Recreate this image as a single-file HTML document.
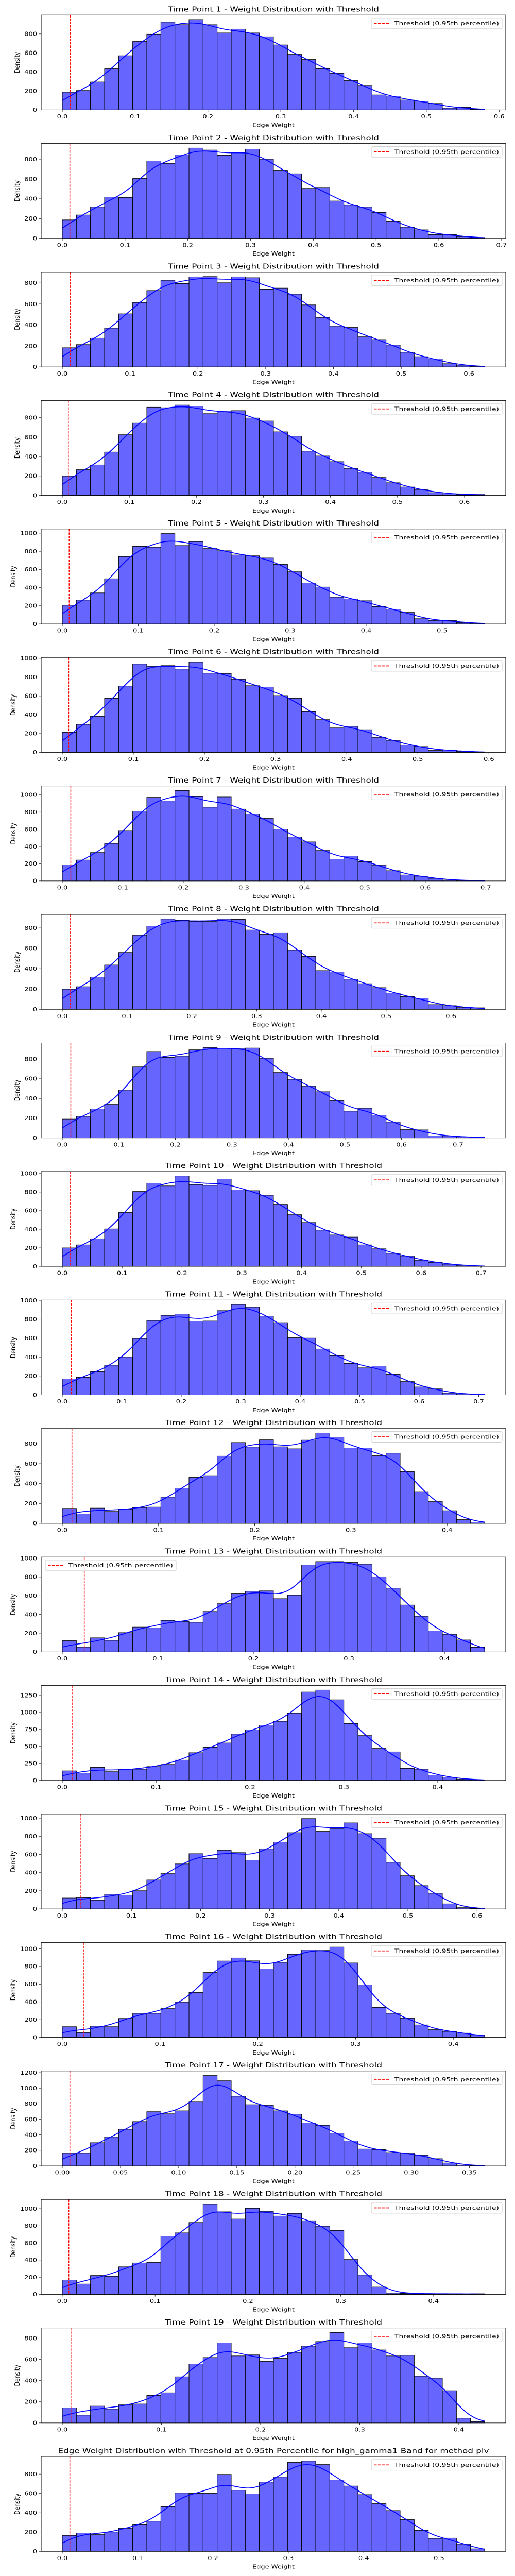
<!DOCTYPE html>
<html><head><meta charset="utf-8"><title>Weight Distributions</title>
<style>
html,body{margin:0;padding:0;background:#fff;width:100%;height:100%;overflow:hidden;}
svg{display:block;position:fixed;left:0;top:0;width:100vw;height:100vh;font-family:"DejaVu Sans","Liberation Sans",sans-serif;}
</style></head>
<body>
<svg id="fig" viewBox="0 0 1000 6000" preserveAspectRatio="none" xmlns="http://www.w3.org/2000/svg"></svg>
<script>
const tp1=[186,204,294,438,570,720,797,924,897,951,897,810,851,810,770,684,584,530,439,385,308,258,158,145,104,91,68,18,27,5];
const tp2=[187,237,317,417,413,605,782,757,845,913,893,840,867,902,800,688,653,505,515,378,338,317,262,173,113,87,38,38,18,10];
const tp3=[183,213,274,369,506,613,728,825,794,858,861,802,858,850,740,751,693,591,471,389,376,287,261,208,139,98,77,31,16,6];
const tp4=[199,265,314,447,625,744,908,903,930,918,842,869,873,797,766,655,609,455,406,348,278,238,185,131,87,61,29,17,10,10];
const tp5=[205,262,342,498,742,855,845,996,864,907,831,807,760,751,727,656,575,451,407,295,276,256,191,162,127,58,38,38,15,7];
const tp6=[214,298,384,575,705,940,916,924,886,961,842,839,779,710,696,605,575,433,349,261,277,242,160,128,77,63,21,26,11,5];
const tp7=[188,243,330,435,586,810,971,929,1050,979,856,975,835,780,726,600,510,454,354,253,289,224,184,119,69,54,29,10,6,4];
const tp8=[198,223,317,436,559,729,818,887,874,863,863,887,884,779,737,753,583,520,381,368,296,253,214,160,126,110,47,37,18,16];
const tp9=[191,218,293,340,485,721,877,817,830,894,917,909,909,912,808,664,594,526,469,377,271,301,231,161,84,82,22,20,10,7];
const tp10=[200,232,298,404,580,807,896,867,973,881,872,941,824,816,766,668,557,473,390,339,316,232,190,140,112,66,43,23,11,5];
const tp11=[169,186,246,314,401,596,787,841,855,779,782,892,956,929,833,765,605,601,486,415,333,287,305,218,141,84,64,19,9,5];
const tp12=[151,95,154,120,143,159,164,264,354,463,480,676,813,767,840,770,750,837,908,866,758,758,680,705,520,320,219,128,38,13];
const tp13=[120,51,151,123,206,265,257,336,325,316,432,515,626,647,652,569,606,928,965,965,956,937,803,680,501,381,225,188,128,49];
const tp14=[141,107,192,129,165,165,204,235,299,408,488,551,682,745,813,869,990,1301,1330,1187,837,660,471,420,177,165,78,46,19,10];
const tp15=[120,123,96,161,152,201,319,389,496,609,556,647,621,538,661,737,841,996,855,886,949,830,779,513,366,257,172,56,14,5];
const tp16=[121,54,126,121,214,271,271,325,398,506,732,862,896,864,773,846,937,987,981,1019,840,593,338,271,217,141,87,67,48,28];
const tp17=[166,166,299,372,471,571,698,671,709,830,1163,1096,896,788,781,709,665,554,522,420,321,217,210,172,166,138,93,38,11,4];
const tp18=[167,121,221,211,322,367,372,678,718,839,1054,964,879,1004,969,914,944,860,795,745,407,226,86,15,12,8,8,6,6,8];
const tp19=[142,73,159,131,171,179,260,285,436,557,618,756,633,643,581,610,666,725,769,854,711,756,690,633,638,442,423,305,44,12];
const tp20=[165,191,174,200,240,276,312,463,605,601,601,797,632,596,717,770,921,935,899,739,677,588,494,423,329,218,134,138,76,27];
const binHeights=[tp1,tp2,tp3,tp4,tp5,tp6,tp7,tp8,tp9,tp10,tp11,tp12,tp13,tp14,tp15,tp16,tp17,tp18,tp19,tp20];
const dataMax=[0.58,0.673,0.623,0.63,0.556,0.594,0.698,0.652,0.747,0.706,0.71,0.439,0.442,0.45,0.611,0.432,0.363,0.455,0.426,0.5605];
const thresholds=[0.011,0.012,0.012,0.009,0.009,0.009,0.014,0.012,0.015,0.013,0.015,0.010,0.023,0.011,0.026,0.0216,0.0065,0.007,0.0087,0.010];
const xTicks=[
[0,0.1,0.2,0.3,0.4,0.5,0.6],[0,0.1,0.2,0.3,0.4,0.5,0.6,0.7],[0,0.1,0.2,0.3,0.4,0.5,0.6],[0,0.1,0.2,0.3,0.4,0.5,0.6],
[0,0.1,0.2,0.3,0.4,0.5],[0,0.1,0.2,0.3,0.4,0.5,0.6],[0,0.1,0.2,0.3,0.4,0.5,0.6,0.7],[0,0.1,0.2,0.3,0.4,0.5,0.6],
[0,0.1,0.2,0.3,0.4,0.5,0.6,0.7],[0,0.1,0.2,0.3,0.4,0.5,0.6,0.7],[0,0.1,0.2,0.3,0.4,0.5,0.6,0.7],[0,0.1,0.2,0.3,0.4],
[0,0.1,0.2,0.3,0.4],[0,0.1,0.2,0.3,0.4],[0,0.1,0.2,0.3,0.4,0.5,0.6],[0,0.1,0.2,0.3,0.4],
[0,0.05,0.1,0.15,0.2,0.25,0.3,0.35],[0,0.1,0.2,0.3,0.4],[0,0.1,0.2,0.3,0.4],[0,0.1,0.2,0.3,0.4,0.5]];
const xTickDecimals=[1,1,1,1,1,1,1,1,1,1,1,1,1,1,1,1,2,1,1,1];
const yTicks=[
[0,200,400,600,800],[0,200,400,600,800],[0,200,400,600,800],[0,200,400,600,800],
[0,200,400,600,800,1000],[0,200,400,600,800,1000],[0,200,400,600,800,1000],[0,200,400,600,800],
[0,200,400,600,800],[0,200,400,600,800,1000],[0,200,400,600,800,1000],[0,200,400,600,800],
[0,200,400,600,800,1000],[0,250,500,750,1000,1250],[0,200,400,600,800,1000],[0,200,400,600,800,1000],
[0,200,400,600,800,1000,1200],[0,200,400,600,800,1000],[0,200,400,600,800],[0,200,400,600,800]];
const legendSide=['r','r','r','r','r','r','r','r','r','r','r','r','l','r','r','r','r','r','r','r'];
const titles=[];
for(let i=1;i<=19;i++) titles.push('Time Point '+i+' - Weight Distribution with Threshold');
titles.push('Edge Weight Distribution with Threshold at 0.95th Percentile for high_gamma1 Band for method plv');

const NS='http://www.w3.org/2000/svg';
const svg=document.getElementById('fig');
function mk(tag,attrs,parent){const e=document.createElementNS(NS,tag);for(const k in attrs)e.setAttribute(k,attrs[k]);parent.appendChild(e);return e;}

const L=80,W=902,AH=221;
binHeights.forEach((h,i)=>{
  const top=35+i*299.3, bot=top+AH;
  const g=mk('g',{},svg);
  
  
  const xmax=dataMax[i], x0=-0.05*xmax, x1=1.05*xmax;
  const ymax=Math.max(...h)*1.05;
  const sx=v=>L+(v-x0)/(x1-x0)*W;
  const sy=v=>bot-v/ymax*AH;
  const n=h.length, bw=xmax/n;
  const bars=mk('g',{},g);
  
  
  h.forEach((v,j)=>{
    const r=mk('rect',{x:sx(j*bw),y:sy(v),width:sx((j+1)*bw)-sx(j*bw),height:bot-sy(v),fill:'#6666ff',stroke:'#000','stroke-width':1},bars);
    
    
  });
  const sig=1.05*bw;let d='';
  for(let k=0;k<=240;k++){
    const x=xmax*k/240;let s=0;
    for(let j=0;j<n;j++){const c=(j+0.5)*bw;s+=h[j]*bw/(sig*Math.sqrt(2*Math.PI))*Math.exp(-(x-c)*(x-c)/(2*sig*sig));}
    d+=(k?'L':'M')+sx(x).toFixed(1)+','+sy(s).toFixed(1);
  }
  const kde=mk('path',{d:d,fill:'none',stroke:'#0000ff','stroke-width':2},g);
  
  
  const th=mk('line',{x1:sx(thresholds[i]),x2:sx(thresholds[i]),y1:top,y2:bot,stroke:'#ff0000','stroke-width':1.5,'stroke-dasharray':'5.5,2.4'},g);
  
  
  const fr=mk('rect',{x:L,y:top,width:W,height:AH,fill:'none',stroke:'#000','stroke-width':1},g);
  
  
  xTicks[i].forEach(t=>{
    const x=sx(t);
    mk('line',{x1:x,x2:x,y1:bot,y2:bot+4.9,stroke:'#000','stroke-width':0.8},g);
    const tx=mk('text',{x:x,y:bot+20,'text-anchor':'middle','font-size':13,fill:'#000'},g);
    tx.textContent=t.toFixed(xTickDecimals[i]);
    
    
  });
  let maxW=0;
  yTicks[i].forEach(t=>{
    const y=sy(t);
    mk('line',{x1:L-4.9,x2:L,y1:y,y2:y,stroke:'#000','stroke-width':0.8},g);
    const tx=mk('text',{x:L-8,y:y+4.6,'text-anchor':'end','font-size':13,fill:'#000'},g);
    tx.textContent=String(t);
    
    
    maxW=Math.max(maxW,String(t).length*8.3);
  });
  const yl=mk('text',{x:0,y:0,'text-anchor':'middle','font-size':13,fill:'#000',transform:'translate('+(L-8-maxW-9)+','+(top+AH/2)+') rotate(-90)'},g);
  yl.textContent='Density';
  
  
  const xl=mk('text',{x:L+W/2,y:bot+40,'text-anchor':'middle','font-size':13,fill:'#000'},g);
  xl.textContent='Edge Weight';
  
  
  const tw=i===19?837:(i>=9?422:410);
  const tt=mk('text',{x:L+W/2,y:top-8,'text-anchor':'middle','font-size':16,fill:'#000',textLength:tw,lengthAdjust:'spacingAndGlyphs'},g);
  tt.textContent=titles[i];
  
  
  const lx=legendSide[i]==='l'?L+8:L+W-261, ly=top+7;
  const lg=mk('g',{},g);
  
  
  mk('rect',{x:lx,y:ly,width:254,height:25,rx:3,fill:'#fff','fill-opacity':0.8,stroke:'#cccccc','stroke-width':1},lg);
  mk('line',{x1:lx+5,x2:lx+35,y1:ly+12.5,y2:ly+12.5,stroke:'#ff0000','stroke-width':2,'stroke-dasharray':'5.5,2.4'},lg);
  const lt=mk('text',{x:lx+45,y:ly+17,'font-size':13,fill:'#000',textLength:203,lengthAdjust:'spacingAndGlyphs'},lg);
  lt.textContent='Threshold (0.95th percentile)';
  
  
});
</script>
</body></html>
